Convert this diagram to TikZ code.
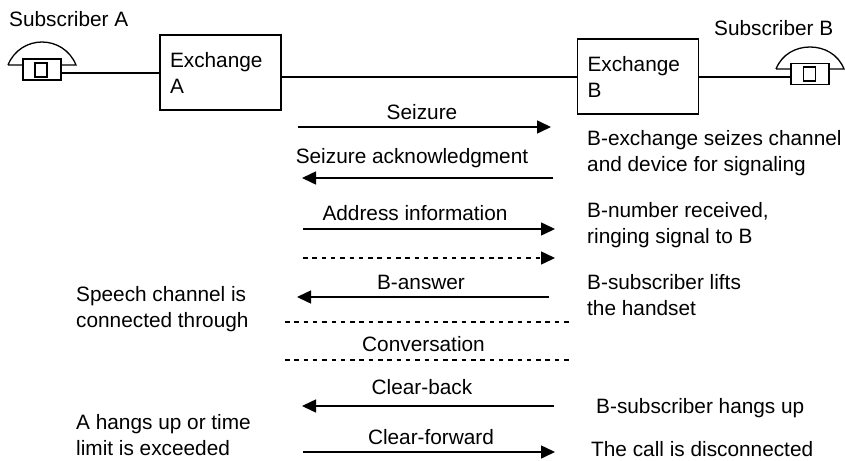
\documentclass[tikz,border=0pt]{standalone}
\usepackage{fontspec}
\setmainfont{Liberation Sans}
\usetikzlibrary{arrows.meta}

\tikzset{
  lbl/.style={inner sep=0pt, font=\fontsize{20.8}{26}\selectfont, align=left},
  mid/.style={lbl, anchor=center},
  side/.style={lbl, anchor=west},
  exbox/.style={draw, line width=1.5pt, minimum width=121pt, minimum height=75pt,
    text width=101pt, lbl, inner sep=10pt},
  setbody/.style={draw, line width=1.5pt, minimum width=38pt, minimum height=21pt, inner sep=0pt},
  setinner/.style={draw, line width=1.5pt, minimum width=12pt, minimum height=14pt, inner sep=0pt},
  wire/.style={line width=1.3pt},
  sig/.style={line width=1.5pt, -{Triangle[length=14pt, width=13pt]}},
  dot/.style={line width=1.5pt, dash pattern=on 4.5pt off 4.8pt},
}

\begin{document}
\begin{tikzpicture}[x=1pt, y=-1pt]
  \useasboundingbox (0, 0) rectangle (845, 460);

  % subscribers and exchanges
  \node [lbl, anchor=west] (subA) at (9, 19) {Subscriber A};
  \node [lbl, anchor=west] (subB) at (714, 28) {Subscriber B};
  \node [setbody] (setA) at (42, 69.5) {};
  \node [setinner] (keyA) at (41, 70) {};
  \node [setbody] (setB) at (810, 74) {};
  \node [setinner] (keyB) at (809.5, 74) {};
  \node [exbox] (exA) at (220.5, 72.5) {Exchange\\A};
  \node [exbox] (exB) at (638, 76.5) {Exchange\\B};
  \draw [wire] (8, 65) .. controls (14, 50) and (28, 42) .. (42, 42)
    .. controls (56, 42) and (70, 50) .. (76, 65) -- (61, 65) (23, 65) -- (8, 65);
  \draw [wire] (776, 69) .. controls (782, 54) and (796, 47) .. (810, 47)
    .. controls (824, 47) and (838, 54) .. (844, 69) -- (829, 69) (791, 69) -- (776, 69);
  \draw [wire] (setA.east |- 0, 73) -- (exA.west |- 0, 73);
  \draw [wire] (exA.east |- 0, 77) -- (exB.west |- 0, 77);
  \draw [wire] (exB.east |- 0, 77) -- (setB.west |- 0, 77);

  % message ends
  \coordinate (seizeL) at (298, 127);
  \coordinate (seizeR) at (551, 127);
  \coordinate (ackL) at (302, 178);
  \coordinate (ackR) at (553, 178);
  \coordinate (addrL) at (303, 229);
  \coordinate (addrR) at (555, 229);
  \coordinate (ringL) at (303, 258);
  \coordinate (ringR) at (555, 258);
  \coordinate (ansL) at (297, 297);
  \coordinate (ansR) at (549, 297);
  \coordinate (talkAL) at (285, 322);
  \coordinate (talkAR) at (569, 322);
  \coordinate (talkBL) at (285, 360);
  \coordinate (talkBR) at (569, 360);
  \coordinate (backL) at (302, 406);
  \coordinate (backR) at (554, 406);
  \coordinate (fwdL) at (303, 452);
  \coordinate (fwdR) at (555, 452);

  % messages
  \draw [sig] (seizeL) -- (seizeR);
  \draw [sig] (ackR) -- (ackL);
  \draw [sig] (addrL) -- (addrR);
  \draw [sig, dash pattern=on 4.5pt off 4.8pt] (ringL) -- (ringR);
  \draw [sig] (ansR) -- (ansL);
  \draw [dot] (talkAL) -- (talkAR);
  \draw [dot] (talkBL) -- (talkBR);
  \draw [sig] (backR) -- (backL);
  \draw [sig] (fwdL) -- (fwdR);

  % message labels
  \node [mid] (seize) at (422, 112) {Seizure};
  \node [mid] (ack) at (412, 158) {Seizure acknowledgment};
  \node [mid] (addr) at (415, 213) {Address information};
  \node [mid] (ans) at (421, 282) {B-answer};
  \node [mid] (talk) at (423.5, 344) {Conversation};
  \node [mid] (back) at (422, 387) {Clear-back};
  \node [mid] (fwd) at (431, 437) {Clear-forward};

  % notes
  \node [side] (noteA) at (587, 153.5) {B-exchange seizes channel\\and device for signaling};
  \node [side] (noteB) at (587, 225.5) {B-number received,\\ringing signal to B};
  \node [side] (noteC) at (587, 295.5) {B-subscriber lifts\\the handset};
  \node [side] (noteD) at (596, 408) {B-subscriber hangs up};
  \node [side] (noteE) at (591, 449) {The call is disconnected};
  \node [side] (noteF) at (76, 309.5) {Speech channel is\\connected through};
  \node [side] (noteG) at (76, 435) {A hangs up or time\\limit is exceeded};
\end{tikzpicture}
\end{document}
